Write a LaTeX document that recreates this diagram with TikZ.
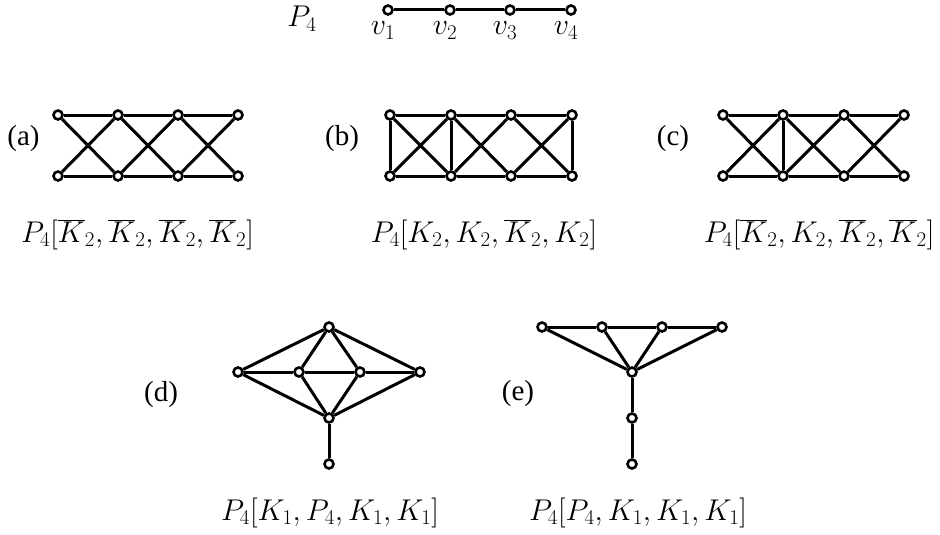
\RequirePackage{fix-cm}
\documentclass[tikz,border=0pt]{standalone}
\usepackage[no-math]{fontspec}
\setmainfont{Liberation Serif}
\begin{document}
\begin{tikzpicture}[x=1pt,y=-1pt,
  vtx/.style={circle,draw,fill=white,inner sep=0pt,minimum size=9pt,line width=2.6pt},
  edge/.style={line width=3pt},
  lab/.style={font=\fontsize{29}{34}\selectfont},
  mlab/.style={font=\fontsize{30}{35}\selectfont,anchor=base,inner sep=0pt}]
\useasboundingbox (0,0) rectangle (940,535);
% P4
\node[mlab] (p4) at (302,27) {$P_4$};
\foreach \i/\x in {1/388,2/450,3/510,4/571}{
  \node[vtx] (p\i) at (\x,10) {};
  \node[mlab] (pl\i) at (\x-5,35) {$v_{\i}$};
}
\draw[edge] (p1)--(p2)--(p3)--(p4);
% generic grid graphs
\foreach \g/\xa/\xb/\xc/\xd in {a/58/118/178/238, b/390/451/511/572, c/723/783/844/904}{
  \node[vtx] (\g t1) at (\xa,115) {};
  \node[vtx] (\g t2) at (\xb,115) {};
  \node[vtx] (\g t3) at (\xc,115) {};
  \node[vtx] (\g t4) at (\xd,115) {};
  \node[vtx] (\g b1) at (\xa,176) {};
  \node[vtx] (\g b2) at (\xb,176) {};
  \node[vtx] (\g b3) at (\xc,176) {};
  \node[vtx] (\g b4) at (\xd,176) {};
  \draw[edge] (\g t1)--(\g t2)--(\g t3)--(\g t4);
  \draw[edge] (\g b1)--(\g b2)--(\g b3)--(\g b4);
  \draw[edge] (\g t1)--(\g b2) (\g t2)--(\g b1) (\g t2)--(\g b3)
              (\g t3)--(\g b2) (\g t3)--(\g b4) (\g t4)--(\g b3);
}
\draw[edge] (bt1)--(bb1) (bt2)--(bb2) (bt4)--(bb4);
\draw[edge] (ct2)--(cb2);
\node[lab] (la) at (23.5,139) {(a)};
\node[lab] (lb) at (342,139) {(b)};
\node[lab] (lc) at (673,139) {(c)};
\node[mlab] (ma) at (137.5,242) {$P_4[\overline{K}_2,\overline{K}_2,\overline{K}_2,\overline{K}_2]$};
\node[mlab] (mb) at (484,242) {$P_4[K_2,K_2,\overline{K}_2,K_2]$};
\node[mlab] (mc) at (819,242) {$P_4[\overline{K}_2,K_2,\overline{K}_2,\overline{K}_2]$};
% (d)
\node[vtx] (d1) at (329,327) {};
\node[vtx] (dm1) at (238,372) {};
\node[vtx] (dm2) at (299,372) {};
\node[vtx] (dm3) at (360,372) {};
\node[vtx] (dm4) at (420,372) {};
\node[vtx] (d3) at (329,418) {};
\node[vtx] (d4) at (329,464) {};
\draw[edge] (dm1)--(dm2)--(dm3)--(dm4);
\foreach \k in {1,2,3,4}{\draw[edge] (d1)--(dm\k) (d3)--(dm\k);}
\draw[edge] (d3)--(d4);
\node[lab] (ld) at (161,395) {(d)};
\node[mlab] (md) at (330,520) {$P_4[K_1,P_4,K_1,K_1]$};
% (e)
\node[vtx] (et1) at (542,327) {};
\node[vtx] (et2) at (602,327) {};
\node[vtx] (et3) at (662,327) {};
\node[vtx] (et4) at (722,327) {};
\node[vtx] (e2) at (632,372) {};
\node[vtx] (e3) at (632,418) {};
\node[vtx] (e4) at (632,464) {};
\draw[edge] (et1)--(et2)--(et3)--(et4);
\foreach \k in {1,2,3,4}{\draw[edge] (e2)--(et\k);}
\draw[edge] (e2)--(e3)--(e4);
\node[lab] (le) at (518,394) {(e)};
\node[mlab] (me) at (638,520) {$P_4[P_4,K_1,K_1,K_1]$};
\end{tikzpicture}
\end{document}
